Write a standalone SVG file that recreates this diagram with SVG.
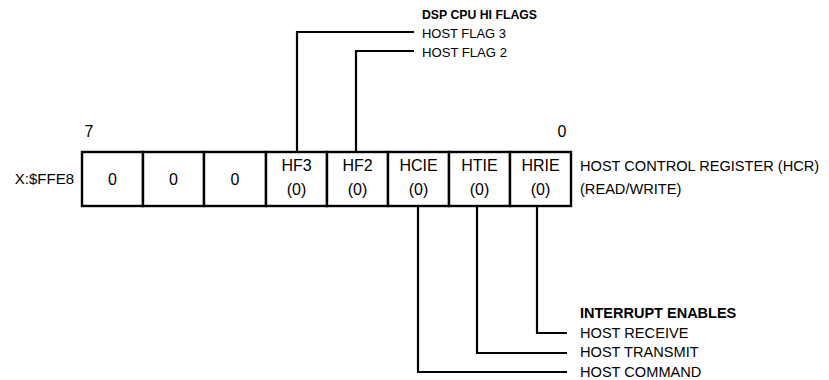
<svg xmlns="http://www.w3.org/2000/svg" width="829" height="380" viewBox="0 0 829 380">
<style>
text{font-family:"Liberation Sans",Arial,sans-serif;fill:#000}
.c{font-size:16px;text-anchor:middle}
.l{font-size:14.6px}
.f{font-size:13.5px}
.b{font-weight:bold;font-size:14.5px}
.h{font-weight:bold;font-size:13px}
.cell{fill:#fff;stroke:#000;stroke-width:2.4}
.conn{fill:none;stroke:#000;stroke-width:2.2}
</style>
<rect width="829" height="380" fill="#fff"/>
<g id="labels">
<text x="74" y="184" style="font-size:15px;text-anchor:end">X:$FFE8</text>
<text class="c" x="89" y="137">7</text>
<text class="c" x="562" y="137">0</text>
<text class="l" x="580" y="171">HOST CONTROL REGISTER (HCR)</text>
<text class="l" x="580" y="194">(READ/WRITE)</text>
</g>
<g id="bit7"><rect class="cell" x="82" y="152" width="61" height="54"/><text class="c" x="112.5" y="185">0</text></g>
<g id="bit6"><rect class="cell" x="143" y="152" width="61" height="54"/><text class="c" x="173.5" y="185">0</text></g>
<g id="bit5"><rect class="cell" x="204" y="152" width="62" height="54"/><text class="c" x="235" y="185">0</text></g>
<g id="hf3"><rect class="cell" x="266" y="152" width="61" height="54"/><text class="c" x="296.5" y="171">HF3</text><text class="c" x="296.5" y="195">(0)</text></g>
<g id="hf2"><rect class="cell" x="327" y="152" width="61" height="54"/><text class="c" x="357.5" y="171">HF2</text><text class="c" x="357.5" y="195">(0)</text></g>
<g id="hcie"><rect class="cell" x="388" y="152" width="61" height="54"/><text class="c" x="418.5" y="171">HCIE</text><text class="c" x="418.5" y="195">(0)</text></g>
<g id="htie"><rect class="cell" x="449" y="152" width="61" height="54"/><text class="c" x="479.5" y="171">HTIE</text><text class="c" x="479.5" y="195">(0)</text></g>
<g id="hrie"><rect class="cell" x="510" y="152" width="61" height="54"/><text class="c" x="540.5" y="171">HRIE</text><text class="c" x="540.5" y="195">(0)</text></g>
<g id="connectors">
<path class="conn" d="M297 152V32H414"/>
<path class="conn" d="M356 152V51H414"/>
<path class="conn" d="M418 206V372H567"/>
<path class="conn" d="M477 206V353H567"/>
<path class="conn" d="M537 206V333H567"/>
</g>
<g id="flags">
<text class="h" x="422" y="19" textLength="115" lengthAdjust="spacingAndGlyphs">DSP CPU HI FLAGS</text>
<text class="f" x="422" y="38" textLength="84" lengthAdjust="spacingAndGlyphs">HOST FLAG 3</text>
<text class="f" x="422" y="57" textLength="85" lengthAdjust="spacingAndGlyphs">HOST FLAG 2</text>
</g>
<g id="enables">
<text class="b" x="580" y="318">INTERRUPT ENABLES</text>
<text class="l" x="580" y="338">HOST RECEIVE</text>
<text class="l" x="580" y="357">HOST TRANSMIT</text>
<text class="l" x="580" y="377">HOST COMMAND</text>
</g>
</svg>
